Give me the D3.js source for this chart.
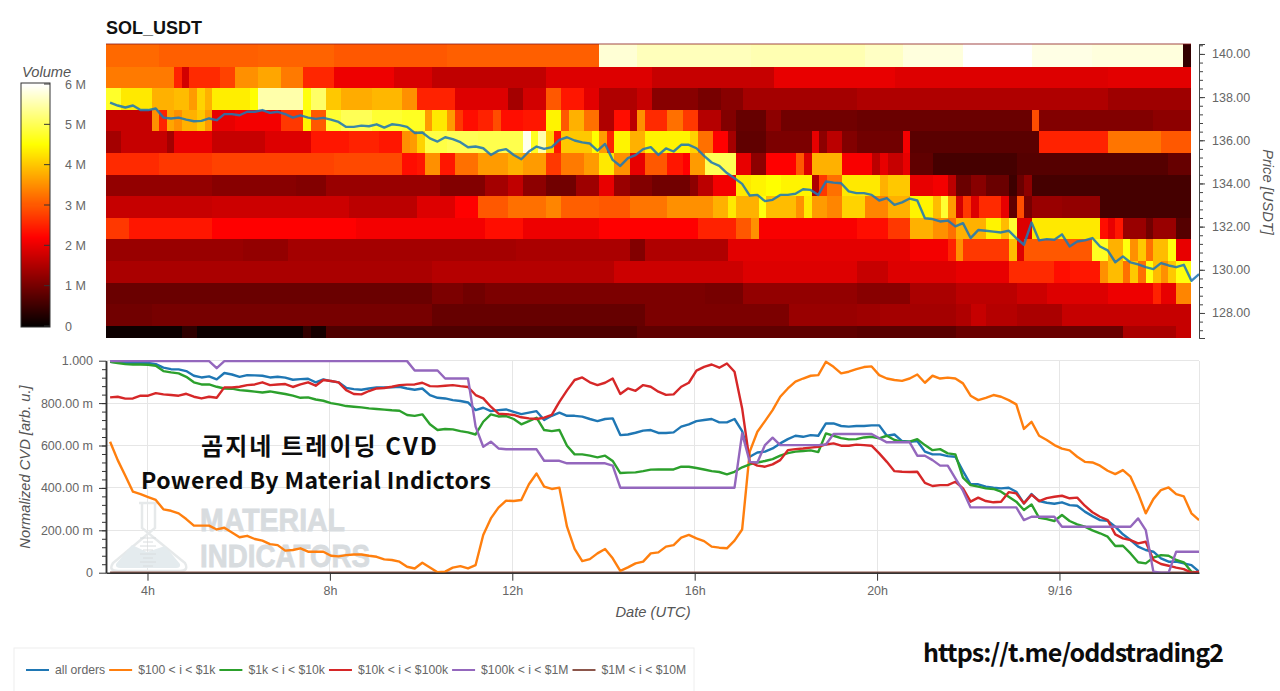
<!DOCTYPE html>
<html>
<head>
<meta charset="utf-8">
<title>SOL_USDT</title>
<script src="https://cdn.jsdelivr.net/npm/d3@7"></script>
<style>
  body { margin: 0; background: #fff; }
  text { font-family: "Liberation Sans", Arial, sans-serif; }
  .tick text { fill: #666; font-size: 12.5px; }
  .axisTitle { fill: #555; font-size: 14.7px; font-style: italic; }
  .overlay { font-family: "Noto Sans CJK KR", sans-serif; font-weight: 700; fill: #0c0c0c; }
</style>
</head>
<body>
<svg id="chart" width="1280" height="691"></svg>
<script>
// heatmap rows: [last 10 min bin of the run, volume in millions]
const heat140 = [[7,3.15],[20,3.05],[30,3.1],[45,3.0],[65,3.05],[70,5.75],[85,5.6],[100,5.55],[105,5.65],[113,5.8],[122,6.0],[130,5.85],[142,5.8],[143,0.4]];
const heat139 = [[9,3.3],[10,2.5],[11,1.8],[15,2.6],[17,2.8],[20,3.5],[23,3.7],[26,3.3],[30,2.55],[38,2.05],[43,1.85],[58,1.65],[65,1.9],[72,1.9],[88,1.7],[104,2.0],[132,1.9],[143,1.95]];
const heat138 = [[2,4.75],[6,4.3],[9,3.8],[11,3.9],[12,3.6],[13,4.1],[14,3.8],[19,4.35],[20,4.5],[26,5.5],[27,4.6],[29,5.1],[31,4.0],[35,3.75],[39,3.85],[41,3.5],[46,2.5],[53,1.9],[55,1.4],[58,1.8],[60,3.0],[63,2.4],[65,1.95],[70,1.5],[72,1.7],[78,1.15],[81,1.0],[84,1.15],[99,1.4],[132,1.5],[143,1.35]];
const heat137 = [[6,1.7],[7,3.5],[8,2.5],[9,3.7],[10,3.5],[12,3.8],[13,4.0],[14,3.6],[17,2.0],[23,2.1],[26,2.7],[27,4.4],[29,3.0],[31,4.8],[35,5.0],[39,4.8],[42,4.7],[43,3.6],[45,4.3],[46,3.6],[47,2.7],[49,2.3],[51,2.5],[52,2.9],[55,2.3],[58,2.4],[60,4.4],[61,3.0],[63,3.8],[65,3.2],[67,1.5],[69,2.3],[70,1.6],[71,3.5],[74,2.6],[76,3.2],[78,2.7],[81,1.55],[83,1.1],[87,0.85],[89,1.2],[99,0.95],[122,0.9],[123,2.9],[138,1.1],[143,1.2]];
const heat136 = [[2,1.4],[8,1.7],[9,1.4],[14,2.0],[21,1.7],[27,1.9],[32,2.4],[36,2.5],[39,2.4],[40,3.5],[41,3.6],[42,4.1],[45,4.9],[49,5.0],[55,4.95],[56,5.9],[57,4.7],[58,5.5],[59,4.1],[60,2.4],[64,4.0],[65,4.5],[66,3.6],[67,2.5],[69,4.4],[71,3.8],[77,4.4],[78,4.1],[80,3.2],[82,2.2],[83,1.4],[87,0.8],[93,1.05],[94,2.0],[95,1.2],[97,1.6],[99,1.1],[105,0.95],[106,2.1],[123,0.75],[132,2.5],[139,3.25],[143,3.0]];
const heat135 = [[7,2.6],[14,2.7],[30,2.8],[39,2.85],[41,2.3],[42,2.4],[44,3.5],[46,2.4],[49,3.2],[53,3.6],[55,3.8],[58,3.6],[60,2.7],[63,3.3],[65,3.6],[67,4.3],[69,3.5],[71,2.0],[74,3.0],[76,2.4],[77,2.2],[79,3.6],[83,5.0],[85,2.0],[87,1.2],[91,2.2],[92,3.0],[93,1.9],[97,3.8],[101,2.15],[102,1.6],[103,2.0],[105,1.7],[106,2.0],[109,0.8],[120,0.55],[140,0.7],[143,0.85]];
const heat134 = [[14,1.25],[25,1.15],[29,1.1],[44,1.3],[50,1.1],[53,1.4],[55,1.65],[58,1.2],[62,0.95],[65,1.35],[67,2.0],[69,1.3],[72,1.1],[77,0.95],[78,1.2],[80,1.6],[83,2.1],[85,4.3],[87,4.4],[89,4.5],[93,4.4],[94,1.5],[95,2.7],[97,3.2],[102,4.3],[103,3.8],[106,4.0],[109,2.0],[111,2.1],[112,1.6],[114,0.9],[116,1.15],[119,0.9],[120,0.5],[121,0.9],[122,1.2],[143,0.55]];
const heat133 = [[14,1.7],[32,1.75],[41,1.6],[46,1.9],[49,2.2],[53,3.0],[58,3.2],[60,3.4],[65,3.05],[69,3.0],[74,3.25],[80,3.5],[82,3.8],[83,4.3],[86,3.8],[87,4.6],[91,3.9],[92,3.5],[93,4.3],[95,3.6],[97,3.4],[100,4.1],[103,3.4],[106,3.8],[109,4.4],[110,3.9],[111,4.8],[112,3.6],[113,1.8],[114,2.7],[115,1.9],[118,2.6],[119,2.0],[120,0.8],[121,2.9],[122,1.0],[126,1.3],[131,1.25],[143,0.55]];
const heat132 = [[3,2.7],[14,2.4],[33,2.25],[50,2.1],[55,2.3],[65,2.05],[78,2.2],[83,2.5],[85,3.0],[86,3.5],[99,2.15],[103,2.3],[106,2.7],[109,3.8],[111,3.5],[112,3.2],[116,3.8],[118,4.4],[119,3.9],[120,4.8],[122,1.9],[131,4.3],[132,2.3],[133,2.0],[134,2.4],[137,1.3],[138,0.95],[141,1.3],[143,0.7]];
const heat131 = [[18,1.3],[24,1.25],[54,1.4],[69,1.45],[71,1.1],[82,1.5],[106,1.95],[111,2.1],[112,2.5],[113,3.5],[119,2.7],[120,3.9],[121,1.9],[130,3.0],[132,4.7],[134,3.8],[135,4.6],[136,3.5],[137,4.0],[138,3.2],[140,3.9],[141,4.6],[143,2.0]];
const heat130 = [[43,1.45],[67,1.55],[84,1.75],[99,1.9],[103,1.7],[112,1.9],[119,2.0],[125,2.6],[127,2.3],[131,2.4],[132,3.5],[134,3.9],[135,3.2],[136,4.0],[137,3.2],[138,4.6],[139,3.9],[140,3.5],[141,4.0],[143,4.6]];
const heat129 = [[43,0.9],[47,1.05],[50,0.95],[79,1.05],[84,1.0],[99,1.25],[106,1.15],[112,1.45],[120,1.6],[124,1.75],[132,1.9],[138,2.05],[139,2.5],[141,2.0],[143,3.4]];
const heat128 = [[6,0.95],[43,1.0],[71,0.85],[90,1.05],[99,1.3],[102,1.35],[112,1.4],[114,1.5],[116,1.7],[120,1.55],[126,1.45],[143,1.7]];
const heat127 = [[10,0.1],[12,0.35],[26,0.1],[27,0.4],[29,0.15],[43,0.65],[70,0.65],[99,0.8],[112,0.75],[134,0.9],[141,1.45],[143,1.7]];

const priceBinEdges = [140.46,139.41,138.41,137.41,136.41,135.41,134.41,133.41,132.41,131.41,130.41,129.41,128.41,127.41,126.84];

const priceValues = [137.74,137.61,137.52,137.61,137.40,137.40,137.47,137.05,137.01,137.05,136.96,136.88,136.90,137.01,136.93,137.21,137.21,137.16,137.32,137.32,137.40,137.27,137.32,137.21,137.05,137.15,137.05,136.99,137.04,136.96,136.85,136.62,136.62,136.68,136.65,136.74,136.59,136.74,136.70,136.62,136.34,136.36,136.09,
  135.94,136.14,136.05,135.91,135.68,135.71,135.63,135.32,135.52,135.59,135.32,135.12,135.48,135.71,135.60,135.68,136.02,136.14,135.99,135.90,135.85,135.52,135.83,135.09,134.81,135.17,135.31,135.59,135.68,135.32,135.62,135.48,135.79,135.79,135.63,135.28,134.97,134.81,134.48,134.24,133.98,133.44,133.47,133.18,133.24,133.47,133.47,133.52,133.73,133.70,133.47,134.09,134.04,134.01,133.63,133.55,
  133.55,133.47,133.21,133.32,133.01,133.12,133.30,133.21,132.39,132.35,132.24,132.28,132.01,132.16,131.47,131.84,131.81,131.77,131.73,131.81,131.47,131.16,132.19,131.36,131.42,131.39,131.64,131.08,131.31,131.36,131.47,131.08,130.90,130.35,130.62,130.34,130.25,130.12,130.03,130.31,130.20,130.12,130.23,129.49,129.80];

// normalized CVD, in milli units, one value per 10 min
const allOrders = [995,992,990,990,990,990,984,967,960,959,951,929,921,926,912,942,935,924,932,931,929,921,924,920,910,913,915,898,912,904,898,872,866,863,869,874,874,874,877,869,863,869,838,
  825,822,814,810,803,767,778,762,767,770,759,748,755,762,720,740,755,740,740,736,725,715,725,728,649,652,660,670,673,659,659,662,689,700,715,720,725,709,709,725,668,547,567,571,586,610,630,646,641,649,646,704,704,692,689,692,
  692,695,695,646,652,621,618,621,571,558,558,550,547,479,417,417,406,401,398,401,382,327,371,338,330,325,332,319,316,288,267,248,245,217,181,154,123,107,99,68,52,52,44,36,5];
const retail = [618,531,457,382,371,357,343,299,292,280,253,222,222,222,204,212,190,167,174,159,151,135,130,104,107,115,99,99,99,80,77,83,86,86,80,75,63,60,52,28,20,47,24,
  2,5,24,31,20,36,178,256,307,340,338,343,417,468,406,395,401,217,112,55,64,91,112,68,9,25,44,52,91,96,123,130,165,178,162,149,123,118,115,151,204,571,665,715,767,830,869,901,916,929,932,995,971,940,948,960,
  970,973,932,916,909,905,916,935,896,929,916,920,916,893,835,814,825,838,830,814,794,678,712,646,626,602,585,577,547,523,520,505,481,465,484,453,374,280,347,390,402,371,360,280,248];
const small = [995,989,984,982,982,981,976,951,945,940,924,898,888,888,877,869,868,861,858,854,850,855,849,843,835,825,827,817,811,800,794,786,783,780,775,772,769,766,764,744,740,747,700,
  673,678,676,668,662,652,712,747,737,739,725,700,715,731,673,668,673,599,558,558,552,544,552,527,470,472,473,479,486,487,487,487,500,500,494,487,479,475,464,476,497,511,520,527,536,552,564,571,574,577,569,657,646,635,629,630,
  638,641,634,646,626,618,618,630,602,578,583,563,558,448,413,406,398,395,382,358,335,296,322,259,253,244,272,244,228,217,200,186,170,126,127,91,49,44,71,83,80,60,49,5,0];
const medium = [827,830,821,822,835,835,847,841,838,835,844,830,822,830,825,874,874,877,885,888,898,885,888,890,876,888,898,882,909,904,898,861,843,841,857,869,871,877,885,887,888,896,880,
  879,882,885,880,876,838,822,783,750,748,744,733,728,725,731,744,806,860,909,921,898,885,896,916,843,869,858,885,877,854,839,841,877,896,953,971,982,967,987,948,775,523,505,500,511,531,578,583,586,590,594,605,610,599,599,604,
  602,599,563,523,479,476,475,476,424,409,413,413,429,398,335,354,338,332,335,380,374,327,368,338,352,358,363,351,354,316,285,264,248,181,162,154,138,146,60,41,33,24,17,0,5];
const large = [998,998,998,998,998,998,998,998,998,998,998,998,998,998,965,998,998,998,998,998,998,998,998,998,998,998,998,998,998,998,998,998,998,998,998,998,998,998,998,998,954,954,954,
  954,916,916,916,916,689,594,618,586,582,582,582,582,582,528,528,528,516,516,516,516,516,516,505,401,401,401,401,401,401,401,401,401,401,401,401,401,401,401,401,657,523,520,602,637,602,602,602,602,602,602,605,654,654,654,654,
  654,654,634,615,615,615,615,552,552,531,505,505,445,387,308,308,308,308,308,308,308,248,264,264,264,264,217,217,217,217,217,217,217,217,217,217,256,201,5,0,0,99,99,99,99];
const whale = [0,0,0,0,0,0,0,0,0,0,0,0,0,0,0,0,0,0,0,0,0,0,0,0,0,0,0,0,0,0,0,0,0,0,0,0,0,0,0,0,0,0,0,
  0,0,0,0,0,0,0,0,0,0,0,0,0,0,0,0,0,0,0,0,0,0,0,0,0,0,0,0,0,0,0,0,0,0,0,0,0,0,0,0,0,0,0,0,0,0,0,0,0,0,0,0,0,0,0,0,
  0,0,0,0,0,0,0,0,0,0,0,0,0,0,0,0,0,0,0,0,0,0,0,0,0,0,0,0,0,0,0,0,0,0,0,0,0,0,0,0,0,0,0,0,0];

const legendLabels = ["all orders", "$100 < i < $1k", "$1k < i < $10k", "$10k < i < $100k", "$100k < i < $1M", "$1M < i < $10M"];
const lineColors = ["#1f77b4", "#ff7f0e", "#2ca02c", "#d62728", "#9467bd", "#8c564b"];
const timeTicks = [4, 8, 12, 16, 20, 24];
const timeTickLabels = ["4h", "8h", "12h", "16h", "20h", "9/16"];
const priceTicks = [128, 130, 132, 134, 136, 138, 140];
const cvdTicks = [0, 200, 400, 600, 800, 1000];
const volumeTicks = [0, 1, 2, 3, 4, 5, 6];

const heatStart = 3.09, heatStep = 0.1664;
const lineStart = 3.18, lineStep = 0.167;

const svg = d3.select("#chart");
const defs = svg.append("defs");
defs.append("filter").attr("id", "soft").append("feGaussianBlur").attr("stdDeviation", 0.5);
defs.append("clipPath").attr("id", "heatClip").append("rect")
  .attr("x", 106).attr("y", 44).attr("width", 1085).attr("height", 294);
defs.append("clipPath").attr("id", "cvdClip").append("rect")
  .attr("x", 106).attr("y", 355).attr("width", 1093).attr("height", 218);

const x = d3.scaleLinear().domain([3.09, 27.06]).range([106, 1199]);
const yPrice = d3.scaleLinear().domain([126.84, 140.46]).range([338, 44]);
const yCvd = d3.scaleLinear().domain([0, 1000]).range([572.7, 360.7]);
const yVolume = d3.scaleLinear().domain([0, 6]).range([326, 84]);
const heatColor = d3.scaleLinear()
  .domain([0, 2.2, 4.5, 6])
  .range(["#050000", "#ff0000", "#ffff00", "#ffffff"]);

// heatmap
const heatRows = [heat140, heat139, heat138, heat137, heat136, heat135, heat134, heat133, heat132, heat131, heat130, heat129, heat128, heat127];
const heatLayer = svg.append("g").attr("clip-path", "url(#heatClip)")
  .append("g").attr("filter", "url(#soft)");
heatRows.forEach((row, r) => {
  let prev = 0;
  const cells = row.map(([end, volume]) => {
    const cell = { start: prev, end, volume };
    prev = end;
    return cell;
  });
  heatLayer.append("g")
    .attr("shape-rendering", "crispEdges")
    .selectAll("rect")
    .data(cells)
    .join("rect")
    .attr("x", d => x(heatStart + d.start * heatStep))
    .attr("width", d => x(heatStart + d.end * heatStep) - x(heatStart + d.start * heatStep))
    .attr("y", yPrice(priceBinEdges[r]))
    .attr("height", yPrice(priceBinEdges[r + 1]) - yPrice(priceBinEdges[r]))
    .attr("fill", d => heatColor(d.volume));
});
svg.append("line")
  .attr("x1", 106)
  .attr("x2", 1191)
  .attr("y1", 44)
  .attr("y2", 44)
  .attr("stroke", "#8b1a1a")
  .attr("stroke-opacity", 0.8);

// price line over the heatmap
const lineTime = (d, i) => x(lineStart + i * lineStep);
svg.append("path")
  .datum(priceValues)
  .attr("fill", "none")
  .attr("stroke", "#1f77b4")
  .attr("stroke-opacity", 0.88)
  .attr("stroke-width", 2.4)
  .attr("stroke-linejoin", "round")
  .attr("d", d3.line().x(lineTime).y(d => yPrice(d)));

// price axis
svg.append("g")
  .attr("transform", "translate(1199,0)")
  .call(d3.axisRight(yPrice).tickValues(priceTicks).tickFormat(d => d.toFixed(2)).tickSize(6).tickPadding(7));
svg.append("g")
  .attr("transform", "translate(1199,0)")
  .call(d3.axisRight(yPrice).tickValues(d3.range(127.2, 140.4, 0.4)).tickFormat("").tickSize(4).tickSizeOuter(0));
svg.selectAll("g.tick line").attr("stroke", "#444");
svg.selectAll(".domain").attr("stroke", "#444");

svg.append("text")
  .attr("class", "axisTitle")
  .attr("transform", "translate(1263,192) rotate(90)")
  .attr("text-anchor", "middle")
  .text("Price [USDT]");

svg.append("text")
  .attr("x", 106)
  .attr("y", 34)
  .attr("font-size", 18)
  .attr("font-weight", "bold")
  .attr("fill", "#111")
  .text("SOL_USDT");

// colour bar
svg.append("g")
  .attr("shape-rendering", "crispEdges")
  .selectAll("rect")
  .data(d3.range(0, 6, 0.025))
  .join("rect")
  .attr("x", 21)
  .attr("width", 29)
  .attr("y", d => yVolume(d + 0.025))
  .attr("height", d => yVolume(d) - yVolume(d + 0.025) + 0.5)
  .attr("fill", d => heatColor(d));
svg.append("rect")
  .attr("x", 21)
  .attr("y", 83)
  .attr("width", 29)
  .attr("height", 244)
  .attr("fill", "none")
  .attr("stroke", "#333");
const volumeAxis = svg.append("g")
  .attr("transform", "translate(50,0)")
  .call(d3.axisRight(yVolume).tickValues(volumeTicks).tickFormat(d => d === 0 ? "0" : d + " M").tickSize(0).tickPadding(15));
volumeAxis.select(".domain").remove();
svg.append("g")
  .selectAll("line")
  .data(volumeTicks)
  .join("line")
  .attr("x1", 44)
  .attr("x2", 50)
  .attr("y1", d => yVolume(d))
  .attr("y2", d => yVolume(d))
  .attr("stroke", "#333");
svg.append("text")
  .attr("class", "axisTitle")
  .attr("x", 22)
  .attr("y", 77)
  .text("Volume");

// CVD grid
const grid = svg.append("g").attr("stroke", "#e6e6e6").attr("shape-rendering", "crispEdges");
grid.selectAll(".h")
  .data(cvdTicks.slice(1))
  .join("line")
  .attr("class", "h")
  .attr("x1", x.range()[0])
  .attr("x2", x.range()[1])
  .attr("y1", d => yCvd(d))
  .attr("y2", d => yCvd(d));
grid.selectAll(".v")
  .data(timeTicks)
  .join("line")
  .attr("class", "v")
  .attr("x1", d => x(d))
  .attr("x2", d => x(d))
  .attr("y1", yCvd(0))
  .attr("y2", yCvd(1000));
grid.append("line")
  .attr("x1", x.range()[1])
  .attr("x2", x.range()[1])
  .attr("y1", yCvd(0))
  .attr("y2", yCvd(1000));

// watermark sits under the lines
const mark = svg.append("g");
mark.append("path")
  .attr("d", "M139,503 H158 M142,503 V528 L185,563 Q189,571 180,571 H118 Q108,571 113,563 L155,528 V503")
  .attr("fill", "none")
  .attr("stroke", "#e6e9ea")
  .attr("stroke-width", 2.5);
mark.append("path")
  .attr("d", "M116,564 L132,545 L147,552 L165,546 L180,564 Q181,568 176,568 H121 Q115,568 116,564 Z")
  .attr("fill", "#e4ebee");
mark.selectAll("line")
  .data(d3.range(538, 568, 4))
  .join("line")
  .attr("x1", (d, i) => i % 2 ? 143 : 140)
  .attr("x2", (d, i) => i % 2 ? 153 : 156)
  .attr("y1", d => d)
  .attr("y2", d => d)
  .attr("stroke", "#d8dcde");
mark.append("text")
  .attr("x", 200)
  .attr("y", 531)
  .attr("font-size", 32)
  .attr("font-weight", "bold")
  .attr("fill", "#d8dcdf")
  .attr("stroke", "#d8dcdf")
  .attr("stroke-width", 0.8)
  .attr("textLength", 145)
  .attr("lengthAdjust", "spacingAndGlyphs")
  .text("MATERIAL");
mark.append("text")
  .attr("x", 200)
  .attr("y", 567)
  .attr("font-size", 32)
  .attr("font-weight", "bold")
  .attr("fill", "#d8dcdf")
  .attr("stroke", "#d8dcdf")
  .attr("stroke-width", 0.8)
  .attr("textLength", 170)
  .attr("lengthAdjust", "spacingAndGlyphs")
  .text("INDICATORS");

// CVD lines, the $1M band lies on the baseline so it goes first
const cvdSeries = [allOrders, retail, small, medium, large, whale];
cvdSeries.forEach(s => { if (s.length !== 144) throw new Error("series length " + s.length); });
const cvdLine = d3.line().x(lineTime).y(d => yCvd(d));
svg.append("g")
  .attr("clip-path", "url(#cvdClip)")
  .selectAll("path")
  .data([whale, allOrders, retail, small, medium, large])
  .join("path")
  .attr("fill", "none")
  .attr("stroke", d => lineColors[cvdSeries.indexOf(d)])
  .attr("stroke-width", 2.4)
  .attr("stroke-linejoin", "round")
  .attr("d", cvdLine);

// CVD axes
const cvdAxis = svg.append("g")
  .attr("transform", "translate(106,0)")
  .call(d3.axisLeft(yCvd).tickValues(cvdTicks)
    .tickFormat(d => d === 0 ? "0" : d === 1000 ? "1.000" : d.toFixed(2) + " m")
    .tickSize(7).tickPadding(6).tickSizeOuter(0));
const cvdMinor = svg.append("g")
  .attr("transform", "translate(106,0)")
  .call(d3.axisLeft(yCvd).tickValues(d3.range(40, 1000, 40)).tickFormat("").tickSize(4).tickSizeOuter(0));
const timeAxis = svg.append("g")
  .attr("transform", "translate(0,572.7)")
  .call(d3.axisBottom(x).tickValues(timeTicks).tickFormat((d, i) => timeTickLabels[i])
    .tickSize(8).tickPadding(5).tickSizeOuter(0));
[cvdAxis, cvdMinor, timeAxis].forEach(a => {
  a.selectAll(".tick line").attr("stroke", "#333");
  a.select(".domain").attr("stroke", "#333").attr("stroke-width", 1.5);
});

svg.append("text")
  .attr("class", "axisTitle")
  .attr("transform", "translate(30,467) rotate(-90)")
  .attr("text-anchor", "middle")
  .text("Normalized CVD [arb. u.]");
svg.append("text")
  .attr("class", "axisTitle")
  .attr("x", 653)
  .attr("y", 617)
  .attr("text-anchor", "middle")
  .text("Date (UTC)");

// legend
svg.append("rect")
  .attr("x", 14)
  .attr("y", 648)
  .attr("width", 680)
  .attr("height", 60)
  .attr("fill", "#fff")
  .attr("stroke", "#eee");
let legendX = 26;
legendLabels.forEach((label, i) => {
  svg.append("line")
    .attr("x1", legendX)
    .attr("x2", legendX + 23)
    .attr("y1", 670)
    .attr("y2", 670)
    .attr("stroke", lineColors[i])
    .attr("stroke-width", 2);
  const t = svg.append("text")
    .attr("x", legendX + 29)
    .attr("y", 674)
    .attr("font-size", 12.2)
    .attr("fill", "#666")
    .text(label);
  legendX += 29 + t.node().getComputedTextLength() + 4;
});

// overlay captions
svg.append("text")
  .attr("class", "overlay")
  .attr("x", 201)
  .attr("y", 455)
  .attr("font-size", 24)
  .attr("textLength", 236)
  .text("곰지네 트레이딩 CVD");
svg.append("text")
  .attr("class", "overlay")
  .attr("x", 141)
  .attr("y", 489)
  .attr("font-size", 23)
  .attr("textLength", 350)
  .text("Powered By Material Indictors");
svg.append("text")
  .attr("class", "overlay")
  .attr("x", 923)
  .attr("y", 662)
  .attr("font-size", 25)
  .attr("textLength", 301)
  .text("https://t.me/oddstrading2");
</script>
</body>
</html>
